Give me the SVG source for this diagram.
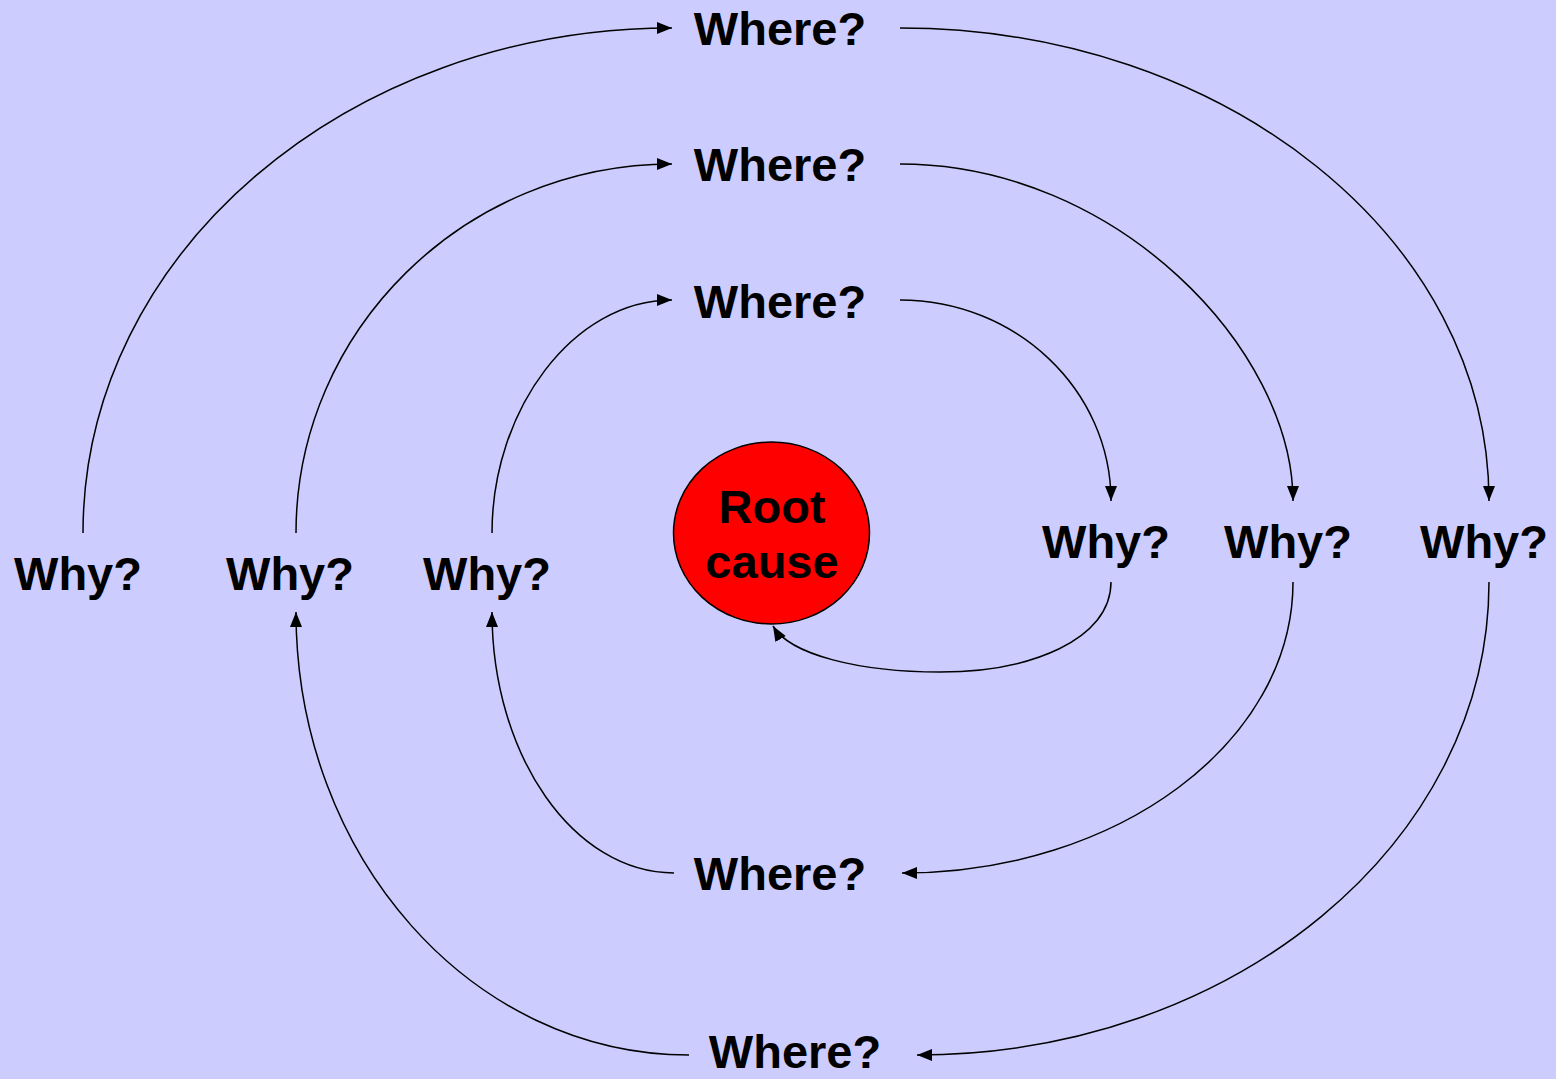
<svg xmlns="http://www.w3.org/2000/svg" width="1556" height="1079" viewBox="0 0 1556 1079">
<style>
.t{font-family:"Liberation Sans",Arial,sans-serif;font-weight:bold;font-size:47px;fill:#000;text-anchor:middle}
.c{fill:none;stroke:#000;stroke-width:1.5}
</style>
<defs>
<marker id="a" markerUnits="userSpaceOnUse" markerWidth="16" markerHeight="12" refX="15" refY="6" orient="auto">
<path d="M0,0 L15,6 L0,12 z" fill="#000"/>
</marker>
</defs>
<rect width="1556" height="1079" fill="#CCCCFF"/>
<g id="connectors">
<path class="c" marker-end="url(#a)" d="M83,533 C83,254 347,28 672,28"/>
<path class="c" marker-end="url(#a)" d="M900,28 C1225,28 1489,239 1489,501"/>
<path class="c" marker-end="url(#a)" d="M1489,582 C1489,843 1233,1055 917,1055"/>
<path class="c" marker-end="url(#a)" d="M689,1055 C472,1055 296,857 296,612"/>
<path class="c" marker-end="url(#a)" d="M296,533 C296,330 465,164 672,164"/>
<path class="c" marker-end="url(#a)" d="M900,164 C1117,164 1293,350 1293,501"/>
<path class="c" marker-end="url(#a)" d="M1293,582 C1293,742 1118,873 902,873"/>
<path class="c" marker-end="url(#a)" d="M674,873 C574,873 492,756 492,612"/>
<path class="c" marker-end="url(#a)" d="M492,533 C492,410 573,300 672,300"/>
<path class="c" marker-end="url(#a)" d="M900,300 C1016,300 1111,390 1111,501"/>
<path class="c" marker-end="url(#a)" d="M1111,582 C1111,640 1030,672 940,672 C860,672 790,655 773,626"/>
</g>
<g id="root"><ellipse cx="771.5" cy="533" rx="98" ry="91" fill="#FF0000" stroke="#000" stroke-width="1.5"/><text class="t" x="772" y="523">Root</text><text class="t" x="772" y="578">cause</text></g>
<g id="where1"><text class="t" x="780" y="45">Where?</text></g>
<g id="where2"><text class="t" x="780" y="181">Where?</text></g>
<g id="where3"><text class="t" x="780" y="318">Where?</text></g>
<g id="where4"><text class="t" x="780" y="890">Where?</text></g>
<g id="where5"><text class="t" x="795" y="1068">Where?</text></g>
<g id="why1"><text class="t" x="78" y="590">Why?</text></g>
<g id="why2"><text class="t" x="290" y="590">Why?</text></g>
<g id="why3"><text class="t" x="487" y="590">Why?</text></g>
<g id="why4"><text class="t" x="1106" y="558">Why?</text></g>
<g id="why5"><text class="t" x="1288" y="558">Why?</text></g>
<g id="why6"><text class="t" x="1484" y="558">Why?</text></g>
</svg>
